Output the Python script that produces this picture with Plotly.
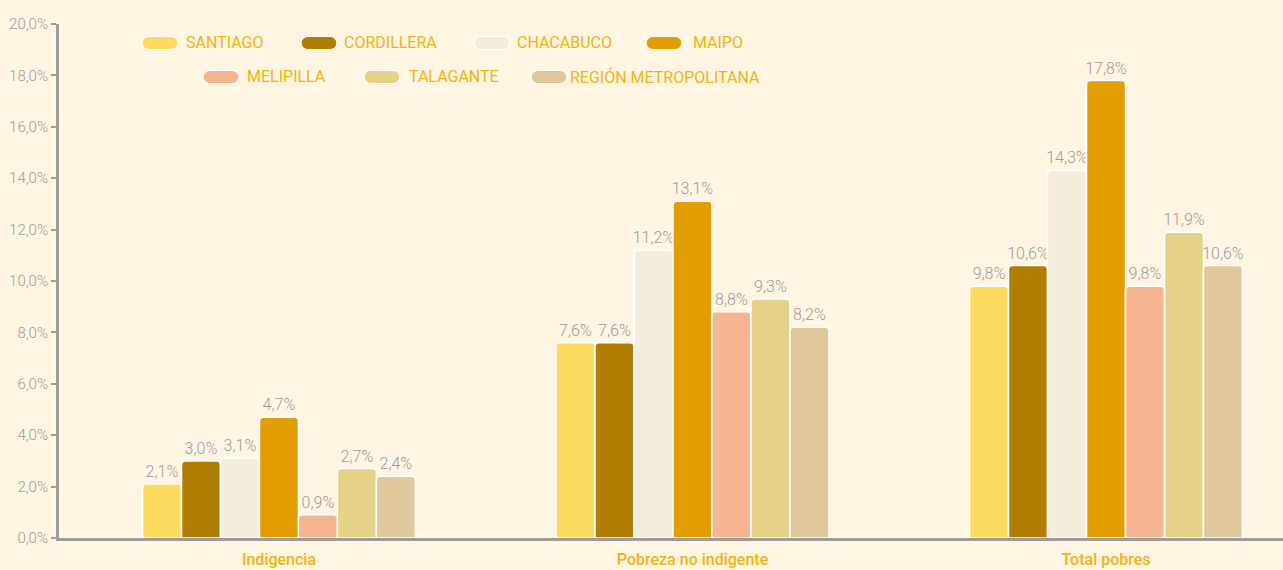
import plotly.graph_objects as go

# Poverty rates by province (%), three indicators
categories = ["Indigencia", "Pobreza no indigente", "Total pobres"]
provinces = ["SANTIAGO", "CORDILLERA", "CHACABUCO", "MAIPO",
             "MELIPILLA", "TALAGANTE", "REGIÓN METROPOLITANA"]
santiago = [2.1, 7.6, 9.8]
cordillera = [3.0, 7.6, 10.6]
chacabuco = [3.1, 11.2, 14.3]
maipo = [4.7, 13.1, 17.8]
melipilla = [0.9, 8.8, 9.8]
talagante = [2.7, 9.3, 11.9]
region_metropolitana = [2.4, 8.2, 10.6]
y_ticks = [0, 2, 4, 6, 8, 10, 12, 14, 16, 18, 20]
y_ticktext = ["0,0%", "2,0%", "4,0%", "6,0%", "8,0%", "10,0%",
              "12,0%", "14,0%", "16,0%", "18,0%", "20,0%"]

series = [santiago, cordillera, chacabuco, maipo, melipilla, talagante, region_metropolitana]
colors = ["#FDD95E", "#B07D00", "#F4ECDC", "#E29D00", "#F5B590", "#E4D286", "#DFC89B"]

FONT = "Roboto, Liberation Sans, sans-serif"
GOLD = "#EDB412"
GREY = "#9C9C9C"
BG = "#FFF5E2"

W, H = 1283, 570
M_L, M_R, M_T, M_B = 59, 0, 24, 32
PW, PH = W - M_L - M_R, H - M_T - M_B

fig = go.Figure()
xpos = list(range(len(categories)))
for name, vals, col in zip(provinces, series, colors):
    fig.add_trace(go.Bar(
        x=xpos, y=vals, name=name, showlegend=False,
        marker=dict(color=col, line=dict(color="white", width=1.5), cornerradius=4),
        text=vals, texttemplate="%{y:.1f}%", textposition="outside",
        constraintext="none",
        textfont=dict(family=FONT, size=16, color=GREY, weight=300),
        cliponaxis=False, hoverinfo="skip",
    ))


def px_to_paper(x, y):
    return (x - M_L) / PW, (H - M_B - y) / PH


def pill_path(cx, cy, w, h):
    # rounded capsule built from bezier arcs, in pixels then converted to paper
    r = h / 2
    k = 0.5523 * r
    x0, x1 = cx - w / 2 + r, cx + w / 2 - r
    top, bot = cy - r, cy + r
    pts = [
        ("M", [(x0, top)]),
        ("L", [(x1, top)]),
        ("C", [(x1 + k, top), (x1 + r, cy - k), (x1 + r, cy)]),
        ("C", [(x1 + r, cy + k), (x1 + k, bot), (x1, bot)]),
        ("L", [(x0, bot)]),
        ("C", [(x0 - k, bot), (x0 - r, cy + k), (x0 - r, cy)]),
        ("C", [(x0 - r, cy - k), (x0 - k, top), (x0, top)]),
    ]
    s = ""
    for cmd, ps in pts:
        s += cmd + " " + " ".join("%.5f,%.5f" % px_to_paper(px, py) for px, py in ps) + " "
    return s + "Z"


# legend entries: (swatch centre x, row y, label left x)
legend_layout = [
    (160, 43, 184), (319, 43, 342), (492, 43, 515), (664, 43, 691),
    (221, 77, 245), (382, 77, 407), (549, 77, 568),
]
shapes = []
annotations = []
for (sx, sy, tx), name, col in zip(legend_layout, provinces, colors):
    shapes.append(dict(type="path", xref="paper", yref="paper",
                       path=pill_path(sx, sy, 36, 13),
                       fillcolor=col, line=dict(color="white", width=1.2)))
    ax, ay = px_to_paper(tx, sy)
    annotations.append(dict(xref="paper", yref="paper", x=ax, y=ay, text=name,
                            showarrow=False, xanchor="left", yanchor="middle",
                            font=dict(family=FONT, size=16, color=GOLD)))

fig.update_layout(
    width=W, height=H,
    margin=dict(l=M_L, r=M_R, t=M_T, b=M_B, pad=0),
    paper_bgcolor=BG, plot_bgcolor=BG,
    barmode="group", bargap=0.34, bargroupgap=0.0,
    separators=", ",
    shapes=shapes, annotations=annotations,
    xaxis=dict(
        range=[-0.532, 2.428], tickvals=xpos, ticktext=categories,
        showgrid=False, zeroline=False, showline=True, linecolor=GREY, linewidth=3,
        ticks="", ticklabelstandoff=5,
        tickfont=dict(family=FONT, size=16, color=GOLD, weight=500),
        layer="below traces", fixedrange=True,
    ),
    yaxis=dict(
        range=[0, 20], tickvals=y_ticks, ticktext=y_ticktext,
        showgrid=False, zeroline=False, showline=True, linecolor=GREY, linewidth=3,
        ticks="outside", ticklen=5, tickwidth=2, tickcolor=GREY,
        tickfont=dict(family=FONT, size=15, color=GREY, weight=300),
        layer="below traces", fixedrange=True,
    ),
)

fig.write_html("out.html")
